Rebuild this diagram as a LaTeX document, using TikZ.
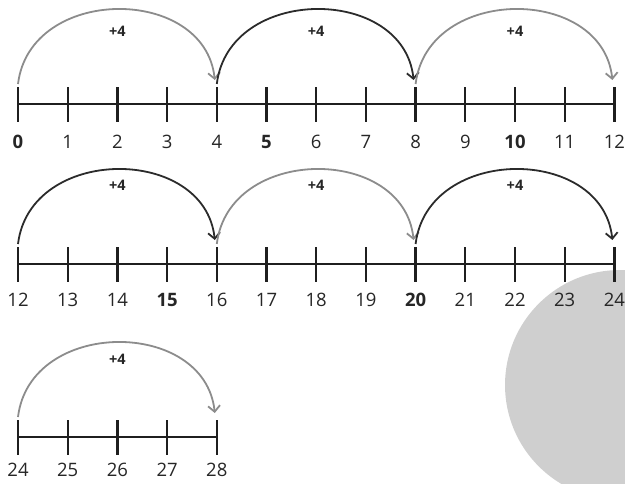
\documentclass[tikz,border=0pt]{standalone}
\usepackage{fontspec}
\setmainfont{Open Sans}
\usetikzlibrary{arrows.meta,calc}
\definecolor{hopgrey}{HTML}{8C8C8C}
\definecolor{hopblack}{HTML}{2B2B2B}

\begin{document}
\begin{tikzpicture}[
  x=1pt, y=-1pt,
  font=\fontsize{18.5}{22}\selectfont,
  axis/.style={line width=2.3pt, draw=black!88},
  tick/.style={line width=2.3pt, draw=black!88},
  hop/.style={line width=1.8pt, -{Straight Barb[length=6pt,width=12pt]}},
  num/.style={inner sep=0pt, text=black!85},
  plus/.style={inner sep=0pt, font=\fontsize{14.5}{17}\selectfont\bfseries, text=black!85}
]
\clip (0,0) rectangle (625,483);
% grey disc in the corner
\fill[black!19] (620,385) circle (115);

% the three number lines
\foreach \row/\yy/\first/\last/\dy in {1/104/0/12/38, 2/264/12/24/36, 3/437/24/28/33}{
  \pgfmathsetmacro\xend{18+49.7*(\last-\first)}
  \coordinate (a\row) at (18,\yy);
  \coordinate (b\row) at (\xend,\yy);
  \draw[axis] (a\row) -- (b\row);
  \foreach \n in {\first,...,\last}{
    \pgfmathsetmacro\xx{18+49.7*(\n-\first)}
    \pgfmathtruncatemacro\rem{mod(\n,5)}
    \coordinate (t\row-\n) at (\xx,\yy-17);
    \coordinate (u\row-\n) at (\xx,\yy+18);
    \coordinate (s\row-\n) at (\xx,\yy-20);
    \coordinate (e\row-\n) at (\xx-2,\yy-24);
    \draw[tick] (t\row-\n) -- (u\row-\n);
    \node[num] (n\row-\n) at (\xx,\yy+\dy) {\ifnum\n<21 \ifnum\rem=0 \bfseries\fi\fi\n};
  }
}

% jumps of +4
\foreach \row/\a/\b/\col/\up in {1/0/4/hopgrey/56, 1/4/8/hopblack/56, 1/8/12/hopgrey/56,
                                  2/12/16/hopblack/62, 2/16/20/hopgrey/62, 2/20/24/hopblack/62,
                                  3/24/28/hopgrey/61}{
  \draw[hop, draw=\col] (s\row-\a) .. controls +(12,-99) and +(-10,-95) .. (e\row-\b);
  \node[plus] (p\row-\a) at ($(t\row-\a)!0.5!(t\row-\b)+(0,-\up)$) {+4};
}
\end{tikzpicture}
\end{document}
